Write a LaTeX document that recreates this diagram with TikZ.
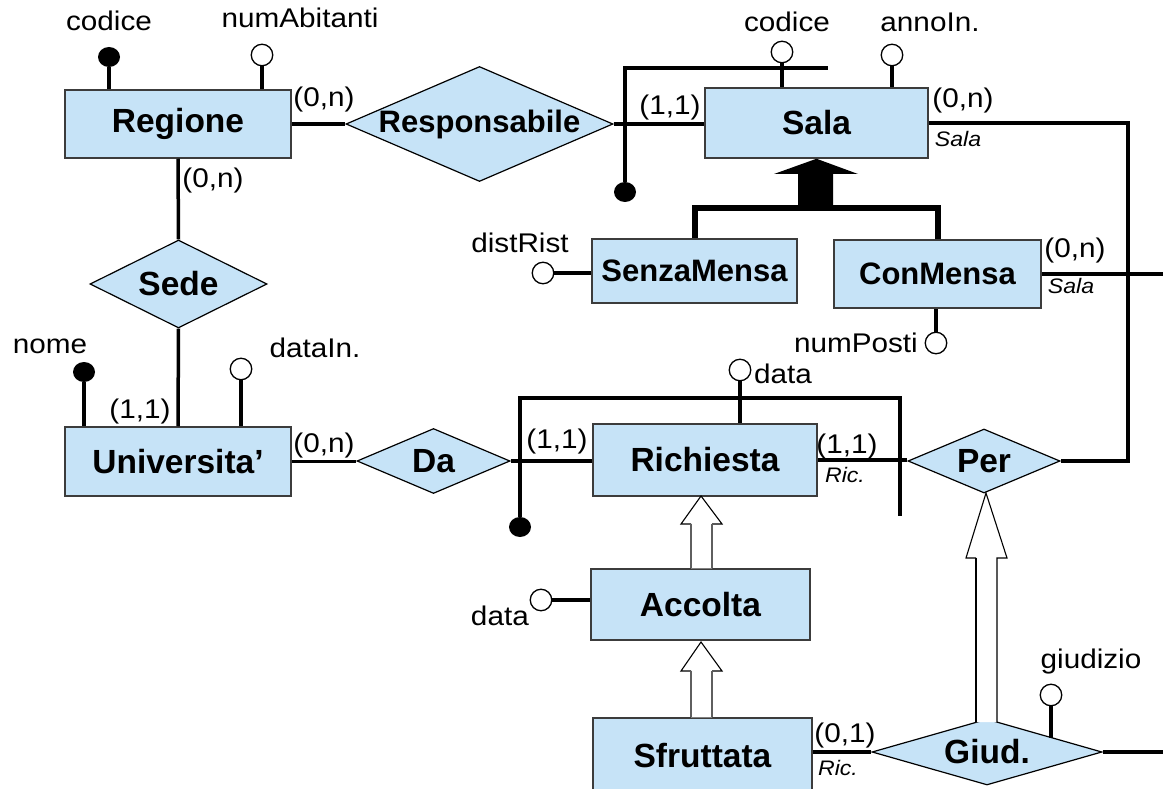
\documentclass[tikz,border=0pt]{standalone}
\usepackage{fontspec}
\setmainfont{Liberation Sans}
\newfontfamily\labfont{Liberation Sans}[FakeStretch=1.1]
\usetikzlibrary{shapes.geometric}
\definecolor{erblue}{RGB}{198,227,247}
\definecolor{boxgray}{RGB}{60,60,60}
\definecolor{shaftgray}{RGB}{95,95,95}
\begin{document}
\begin{tikzpicture}[x=1pt,y=-1pt,
  ent/.style={rectangle, fill=erblue, draw=boxgray, line width=1.5pt, inner sep=0pt,
    font=\fontsize{33.5}{40}\selectfont\bfseries},
  rel/.style={diamond, fill=erblue, draw=black, line width=1.2pt, inner sep=0pt,
    font=\fontsize{33.5}{40}\selectfont\bfseries},
  smallbold/.style={font=\fontsize{31}{37}\selectfont\bfseries},
  lab/.style={inner sep=0pt, anchor=base, font=\labfont\fontsize{27}{32}\selectfont},
  role/.style={inner sep=0pt, anchor=base, font=\labfont\itshape\fontsize{21}{25}\selectfont},
  conn/.style={line width=3.5pt},
  extid/.style={line width=4pt},
  attrline/.style={line width=3.3pt},
  attr/.style={circle, draw=black, fill=white, line width=1.3pt, minimum size=21.5pt, inner sep=0pt},
  keyattr/.style={ellipse, fill=black, minimum width=22pt, minimum height=20pt, inner sep=0pt},
  isa/.style={line width=6pt},
  headline/.style={draw=black, line width=1.1pt},
  shaft/.style={draw=shaftgray, line width=1.8pt}
]
\clip (0,0) rectangle (1163,789);
\fill[white] (0,0) rectangle (1163,789);

% ---------- coordinates ----------
\coordinate (e1a) at (625,68);
\coordinate (e1b) at (828,68);
\coordinate (e2a) at (520,398);
\coordinate (e2b) at (900,398);
\coordinate (e2c) at (900,516);
\coordinate (rc1) at (1128,123);
\coordinate (rc2) at (1128,461);
\coordinate (cmend) at (1170,275);
\coordinate (gdend) at (1170,752);
\coordinate (a9e) at (1051,738);
\coordinate (isaj) at (816,208);

% ---------- nodes ----------
\node[ent, minimum width=226pt, minimum height=68pt] (regione) at (178,124) {Regione};
\node[rel, smallbold, minimum width=267pt, minimum height=115pt] (resp) at (479.5,124) {\makebox[0pt]{Responsabile}};
\node[ent, minimum width=223pt, minimum height=70pt] (sala) at (816.5,123) {Sala};
\node[ent, smallbold, minimum width=205pt, minimum height=64pt] (senza) at (694.5,271) {SenzaMensa};
\node[ent, smallbold, minimum width=207pt, minimum height=68pt] (conm) at (937.5,274) {ConMensa};
\node[rel, minimum width=177pt, minimum height=88pt] (sede) at (178.5,284) {\makebox[0pt]{Sede}};
\node[ent, minimum width=226pt, minimum height=69pt] (univ) at (178,461.5) {Universita’};
\node[rel, minimum width=153pt, minimum height=65pt] (da) at (433.5,461) {\makebox[0pt]{Da}};
\node[ent, minimum width=224pt, minimum height=72pt] (rich) at (705,460) {Richiesta};
\node[rel, minimum width=152pt, minimum height=64pt] (per) at (984,461) {\makebox[0pt]{Per}};
\node[ent, minimum width=219pt, minimum height=71pt] (acc) at (700.5,604.5) {Accolta};
\node[ent, minimum width=219pt, minimum height=80pt] (sfr) at (702.5,758) {\raisebox{6pt}{Sfruttata}};
\node[rel, minimum width=230pt, minimum height=66pt] (giud) at (987,752) {\makebox[0pt]{Giud.}};

% ---------- connectors ----------
\draw[conn] (regione.east) -- (resp.west);
\draw[conn] (resp.east) -- (resp.east -| sala.west);
\draw[conn] (regione.south) -- (sede.north);
\draw[conn] (sede.south) -- (univ.north);
\draw[conn] (univ.east) -- (univ.east -| da.west);
\draw[conn] (da.east) -- (da.east -| rich.west);
\draw[conn] (rich.east) -- (rich.east -| per.west);
\draw[conn] (sala.east) -- (sala.east -| rc1) -- (rc2) -- (per.east);
\draw[conn] (conm.east) -- (conm.east -| cmend);
\draw[conn] (giud.west -| sfr.east) -- (giud.west);
\draw[conn] (giud.east) -- (gdend);

% ---------- external identifiers ----------
\node[keyattr] (k1) at (625,192) {};
\draw[extid] (k1) -- (e1a) -- (e1b);
\node[keyattr] (k2) at (520,527) {};
\draw[extid] (k2) -- (e2a) -- (e2b) -- (e2c);

% ---------- attributes ----------
\node[keyattr] (kc1) at (109,57) {};
\draw[attrline] (kc1) -- (kc1 |- regione.north);
\node[attr] (a1) at (262,55) {};
\draw[attrline] (a1) -- (a1 |- regione.north);
\node[attr] (a2) at (782,52) {};
\draw[attrline] (a2) -- (a2 |- sala.north);
\node[attr] (a3) at (892,55) {};
\draw[attrline] (a3) -- (a3 |- sala.north);
\node[attr] (a4) at (543,273) {};
\draw[attrline] (a4) -- (a4 -| senza.west);
\node[attr] (a5) at (936,343) {};
\draw[attrline] (a5) -- (a5 |- conm.south);
\node[keyattr] (kc2) at (84,372) {};
\draw[attrline] (kc2) -- (kc2 |- univ.north);
\node[attr] (a6) at (241,369) {};
\draw[attrline] (a6) -- (a6 |- univ.north);
\node[attr] (a7) at (740,370) {};
\draw[attrline] (a7) -- (a7 |- rich.north);
\node[attr] (a8) at (541,600) {};
\draw[attrline] (a8) -- (a8 -| acc.west);
\node[attr] (a9) at (1051,695) {};
\draw[attrline] (a9) -- (a9e);

% ---------- generalisation Sala (total, thick) ----------
\fill[black] (sala.south) -- (858,174) -- (833,174) -- (833,208) -- (798,208) -- (798,174) -- (774,174) -- cycle;
\draw[isa] (senza.north) |- (isaj) -| (conm.north);

% ---------- subset arrows (hollow) ----------
\coordinate (t1) at (701,496);
\coordinate (h1l) at (691,524);
\coordinate (h1r) at (712,524);
\fill[white] (t1) -- (722,524) -- (h1r) -- (h1r |- acc.north) -- (h1l |- acc.north) -- (h1l) -- (681,524) -- cycle;
\draw[headline] (h1l) -- (681,524) -- (t1) -- (722,524) -- (h1r);
\draw[shaft] (h1l) -- (h1l |- acc.north);
\draw[shaft] (h1r) -- (h1r |- acc.north);

\coordinate (t2) at (701,642);
\coordinate (h2l) at (691,671);
\coordinate (h2r) at (712,671);
\fill[white] (t2) -- (722,671) -- (h2r) -- (h2r |- sfr.north) -- (h2l |- sfr.north) -- (h2l) -- (681,671) -- cycle;
\draw[headline] (h2l) -- (681,671) -- (t2) -- (722,671) -- (h2r);
\draw[shaft] (h2l) -- (h2l |- sfr.north);
\draw[shaft] (h2r) -- (h2r |- sfr.north);

\coordinate (t3) at (986,493);
\coordinate (s3l) at (976,722);
\coordinate (s3r) at (997,722);
\fill[white] (t3) -- (1007,558) -- (997,558) -- (s3r) -- (s3l) -- (976,558) -- (966,558) -- cycle;
\draw[headline] (976,558) -- (966,558) -- (t3) -- (1007,558) -- (997,558) -- (s3r);
\draw[headline] (976,558) -- (s3l);

% ---------- labels ----------
\node[lab] (l1) at (109,31) {codice};
\node[lab] (l2) at (300,28) {numAbitanti};
\node[lab] (l3) at (324,107) {(0,n)};
\node[lab] (l4) at (213,188) {(0,n)};
\node[lab] (l5) at (670,115) {(1,1)};
\node[lab] (l6) at (787,32) {codice};
\node[lab] (l7) at (930,32) {annoIn.};
\node[lab] (l8) at (963,108) {(0,n)};
\node[role] (r1) at (958,147) {Sala};
\node[lab] (l9) at (520,252) {distRist};
\node[lab] (l10) at (1075,258) {(0,n)};
\node[role] (r2) at (1071,293) {Sala};
\node[lab, anchor=base east] (l11) at (918,352) {numPosti};
\node[lab] (l12) at (50,353) {nome};
\node[lab] (l13) at (315,357) {dataIn.};
\node[lab] (l14) at (140,418) {(1,1)};
\node[lab] (l15) at (324,452) {(0,n)};
\node[lab] (l16) at (557,448) {(1,1)};
\node[lab, anchor=base west] (l17) at (754,383) {data};
\node[lab] (l18) at (847,453) {(1,1)};
\node[role] (r3) at (845,482) {Ric.};
\node[lab, anchor=base east] (l19) at (529,625) {data};
\node[lab] (l20) at (1091,668) {giudizio};
\node[lab] (l21) at (845,742) {(0,1)};
\node[role] (r4) at (838,775) {Ric.};
\end{tikzpicture}
\end{document}
